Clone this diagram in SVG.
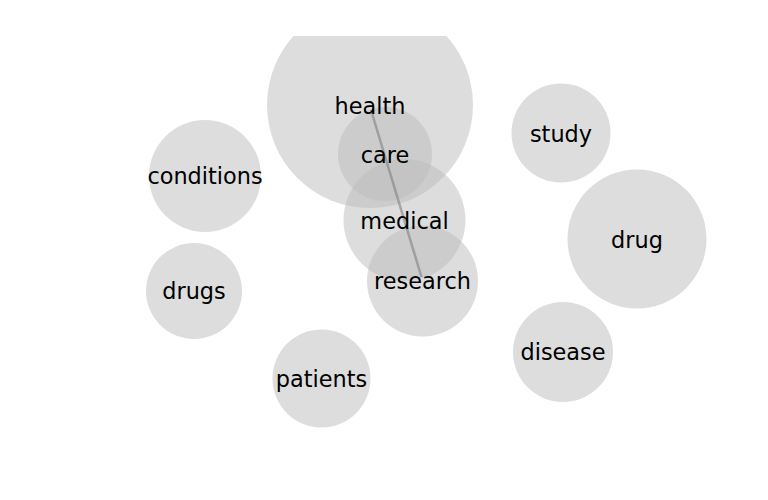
<svg xmlns="http://www.w3.org/2000/svg" width="768" height="500" viewBox="0 0 768 500">
<style>
.n circle{fill:#bbbbbb;fill-opacity:0.5}
.n text{font-family:"DejaVu Sans",sans-serif;font-size:22.4px;fill:#000;text-anchor:middle}
.e{stroke:#808080;stroke-opacity:0.6;stroke-width:2.5;fill:none}
</style>
<defs><clipPath id="c"><rect x="0" y="36" width="768" height="464"/></clipPath></defs>
<rect width="768" height="500" fill="#fff"/>
<g clip-path="url(#c)">
<g id="health" class="n"><circle cx="370" cy="105" r="103"/></g>
<g id="care" class="n"><circle cx="385" cy="154" r="47"/></g>
<g id="medical" class="n"><circle cx="404.5" cy="220" r="61"/></g>
<g id="research" class="n"><circle cx="422.5" cy="281" r="55.5"/></g>
<g id="conditions" class="n"><circle cx="205" cy="176" r="56"/></g>
<g id="drugs" class="n"><circle cx="194" cy="291" r="48"/></g>
<g id="study" class="n"><circle cx="561" cy="133" r="49.5"/></g>
<g id="drug" class="n"><circle cx="637" cy="239" r="69.5"/></g>
<g id="disease" class="n"><circle cx="563" cy="352" r="50"/></g>
<g id="patients" class="n"><circle cx="321.5" cy="378.5" r="49"/></g>
<g id="connectors"><line class="e" x1="371" y1="110" x2="421.5" y2="277"/></g>
<g class="n">
<text x="370" y="113.5">health</text>
<text x="385" y="162.5">care</text>
<text x="404.5" y="228.5">medical</text>
<text x="422.5" y="289">research</text>
<text x="205" y="184.3">conditions</text>
<text x="194" y="299">drugs</text>
<text x="561" y="141.5">study</text>
<text x="637" y="247.5">drug</text>
<text x="563" y="360">disease</text>
<text x="321.5" y="386.5">patients</text>
</g>
</g>
</svg>
